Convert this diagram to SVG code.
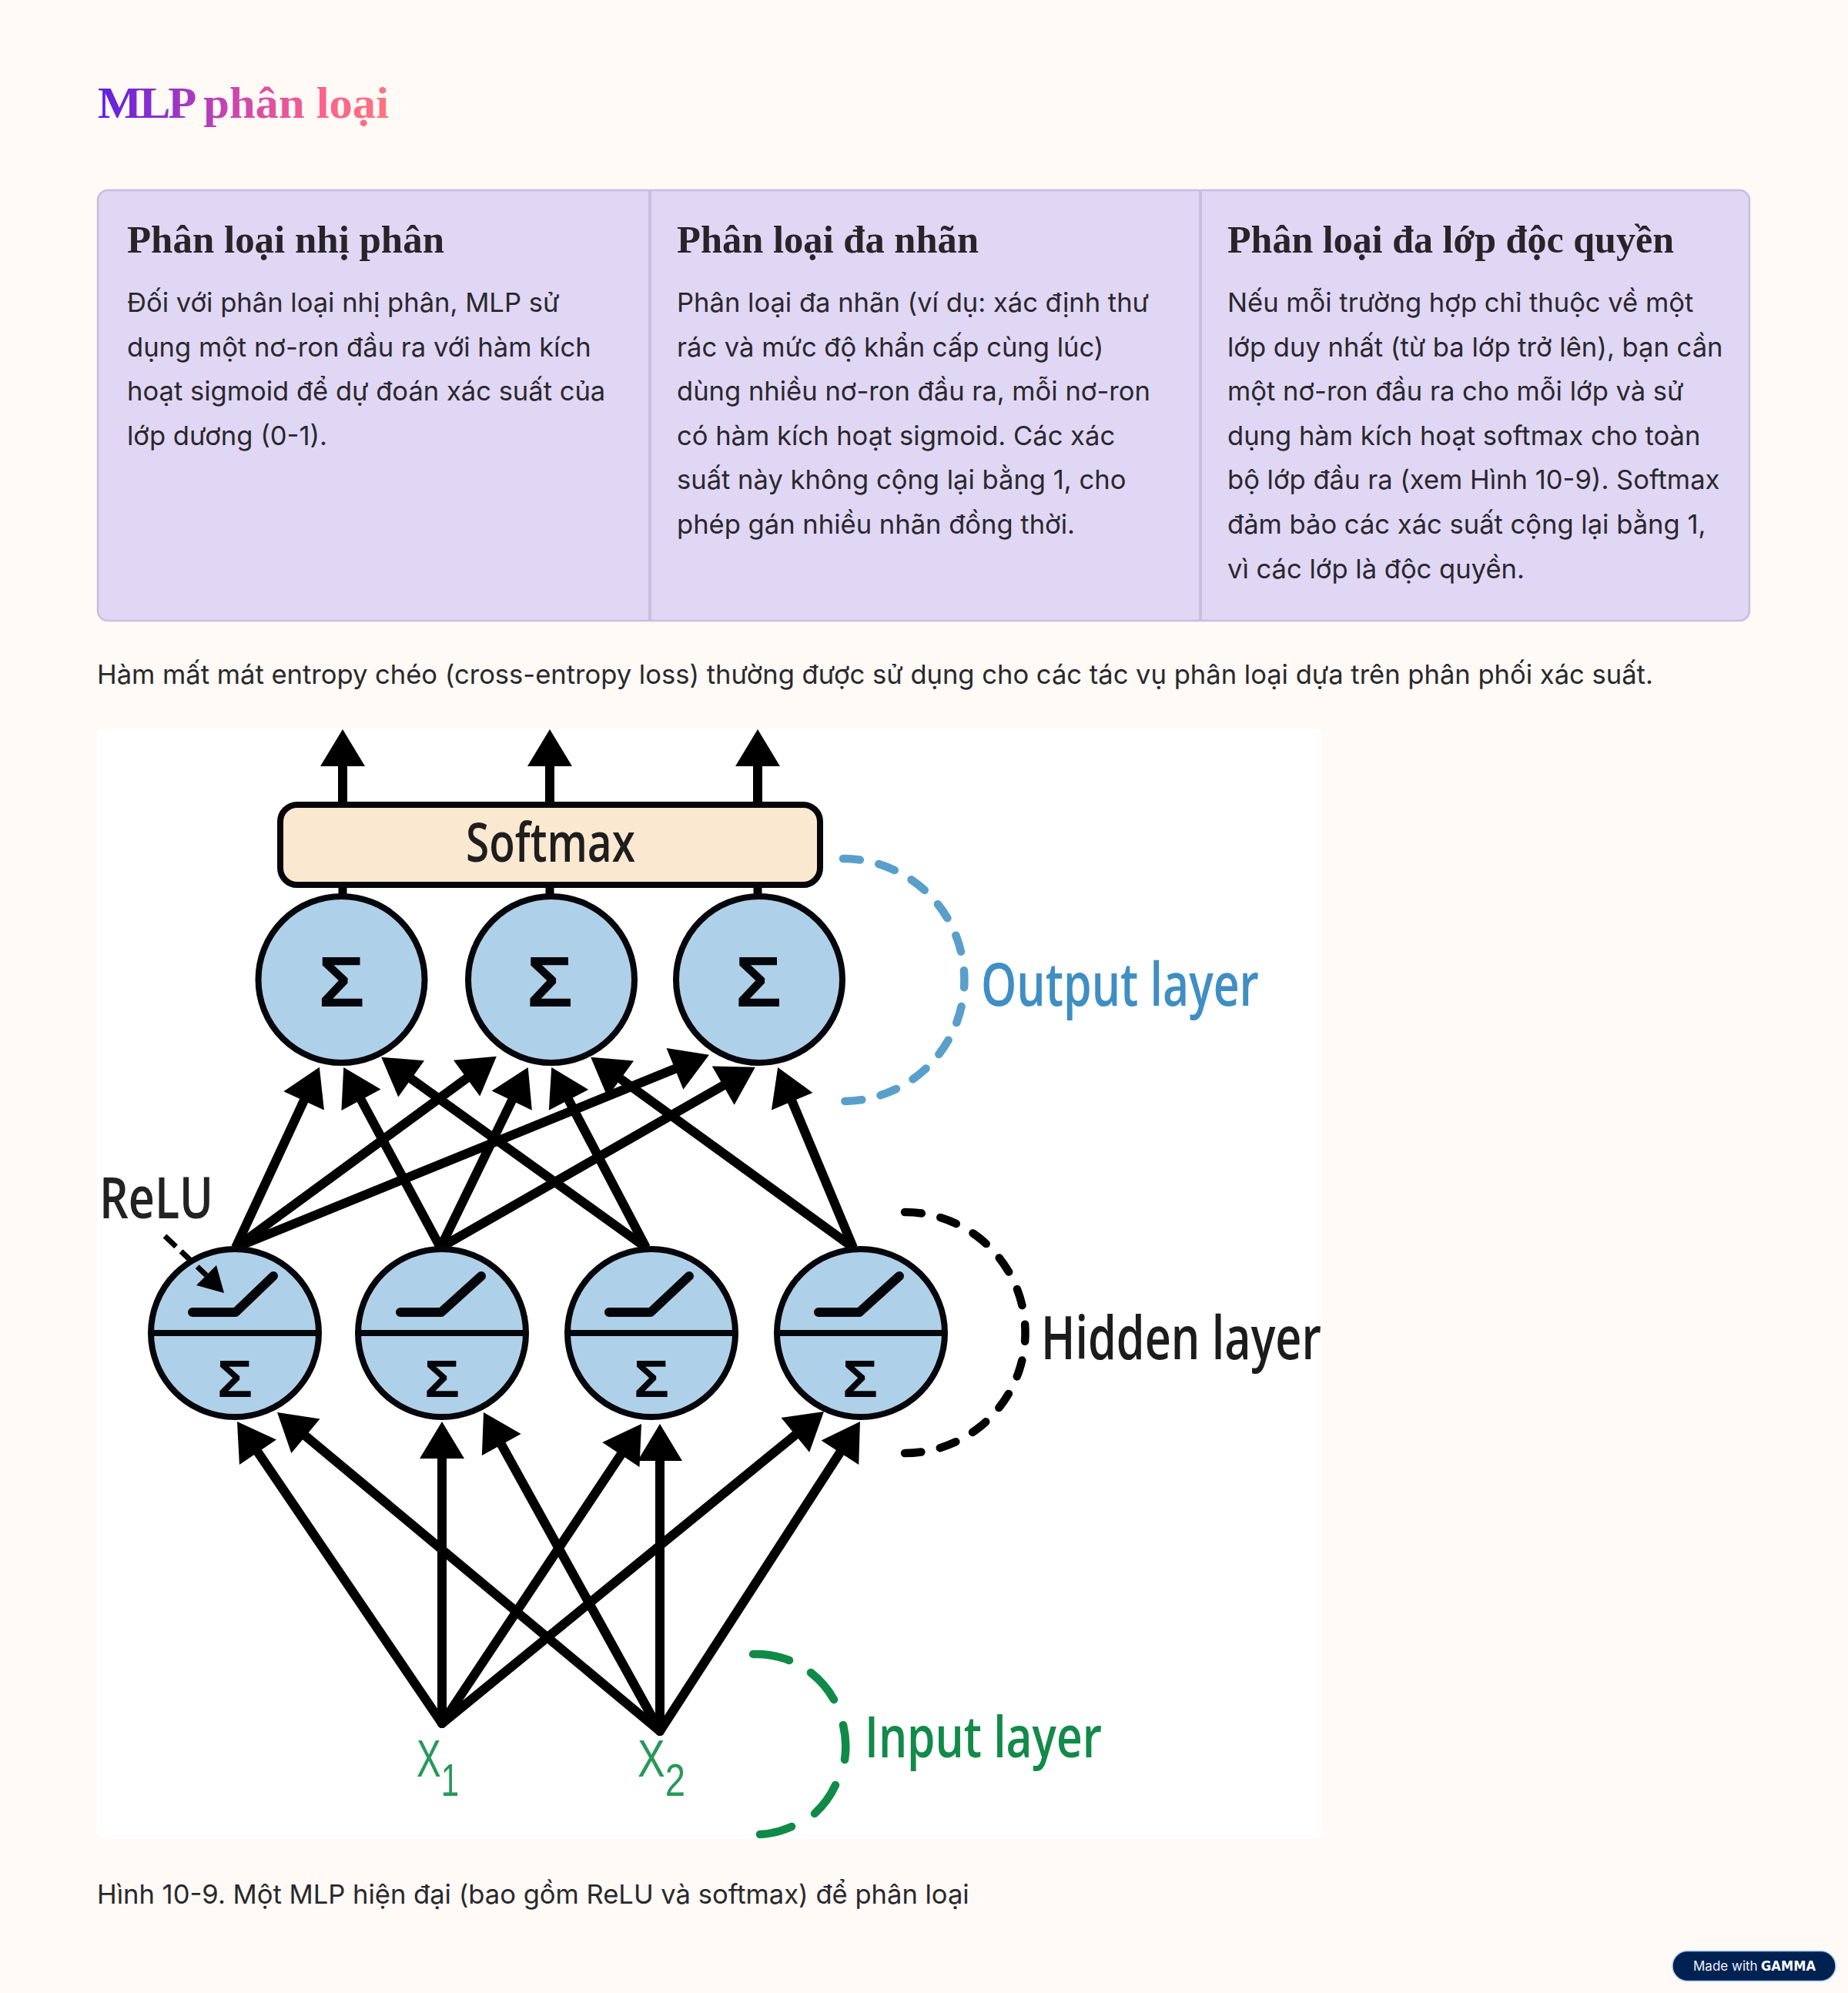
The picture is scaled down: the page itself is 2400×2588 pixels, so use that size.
<svg xmlns="http://www.w3.org/2000/svg" width="2400" height="2588" viewBox="0 0 2400 2588">
<style>
.body{font-family:"Inter","Noto Sans",sans-serif;font-size:34.56px;fill:#2a282c}
.head{font-family:"Liberation Serif","Noto Serif",serif;font-weight:700;font-size:50px;fill:#272527}
.lab{font-family:"Open Sans","Liberation Sans",sans-serif;font-weight:600}
.conn{stroke:#000;stroke-width:12;fill:none;marker-end:url(#ah)}
.stub{stroke:#000;stroke-width:11;fill:none}
.n{fill:#afd0e9;stroke:#05060a;stroke-width:8}
.div{stroke:#05060a;stroke-width:8}
.relu{fill:none;stroke:#05060a;stroke-width:12;stroke-linecap:round;stroke-linejoin:round}
.sig{font-family:"Liberation Sans",sans-serif;font-weight:700;fill:#05060a;text-anchor:middle}
.dash{fill:none;stroke-width:10.5;stroke-linecap:round;stroke-dasharray:22 25}
</style>
<defs>
<linearGradient id="tg" gradientUnits="userSpaceOnUse" x1="128" y1="0" x2="505" y2="0">
<stop offset="0" stop-color="#5d1fe2"/><stop offset="0.45" stop-color="#c745b0"/><stop offset="0.75" stop-color="#fc5f8e"/><stop offset="1" stop-color="#ff757d"/>
</linearGradient>
<marker id="ah" markerUnits="userSpaceOnUse" markerWidth="50" markerHeight="60" refX="28" refY="29" orient="auto" overflow="visible"><path d="M0,0L48,29L0,58z" fill="#000"/></marker>
</defs>
<rect width="2400" height="2588" fill="#fffaf6"/>
<g id="title"><text x="127" y="153" font-family="Liberation Serif,serif" font-weight="700" font-size="58" fill="url(#tg)" textLength="378" lengthAdjust="spacingAndGlyphs"><tspan letter-spacing="-3">MLP</tspan><tspan dx="-3"> phân loại</tspan></text></g>
<g id="cards">
<rect x="127" y="247" width="2145" height="559" rx="13" fill="#e0d7f5" stroke="#c6bfdd" stroke-width="2.5"/>
<line x1="844" y1="248" x2="844" y2="805" stroke="#c6bfdd" stroke-width="4"/>
<line x1="1559" y1="248" x2="1559" y2="805" stroke="#c6bfdd" stroke-width="4"/>
</g>
<g id="card1">
<text class="head" x="165" y="328" textLength="412" lengthAdjust="spacingAndGlyphs">Phân loại nhị phân</text>
<text class="body" x="165" y="405">Đối với phân loại nhị phân, MLP sử</text>
<text class="body" x="165" y="462.6">dụng một nơ-ron đầu ra với hàm kích</text>
<text class="body" x="165" y="520.2">hoạt sigmoid để dự đoán xác suất của</text>
<text class="body" x="165" y="577.8">lớp dương (0-1).</text>
</g>
<g id="card2">
<text class="head" x="879" y="328" textLength="392" lengthAdjust="spacingAndGlyphs">Phân loại đa nhãn</text>
<text class="body" x="879" y="405">Phân loại đa nhãn (ví dụ: xác định thư</text>
<text class="body" x="879" y="462.6">rác và mức độ khẩn cấp cùng lúc)</text>
<text class="body" x="879" y="520.2">dùng nhiều nơ-ron đầu ra, mỗi nơ-ron</text>
<text class="body" x="879" y="577.8">có hàm kích hoạt sigmoid. Các xác</text>
<text class="body" x="879" y="635.4">suất này không cộng lại bằng 1, cho</text>
<text class="body" x="879" y="693">phép gán nhiều nhãn đồng thời.</text>
</g>
<g id="card3">
<text class="head" x="1594" y="328" textLength="580" lengthAdjust="spacingAndGlyphs">Phân loại đa lớp độc quyền</text>
<text class="body" x="1594" y="405">Nếu mỗi trường hợp chỉ thuộc về một</text>
<text class="body" x="1594" y="462.6">lớp duy nhất (từ ba lớp trở lên), bạn cần</text>
<text class="body" x="1594" y="520.2">một nơ-ron đầu ra cho mỗi lớp và sử</text>
<text class="body" x="1594" y="577.8">dụng hàm kích hoạt softmax cho toàn</text>
<text class="body" x="1594" y="635.4">bộ lớp đầu ra (xem Hình 10-9). Softmax</text>
<text class="body" x="1594" y="693">đảm bảo các xác suất cộng lại bằng 1,</text>
<text class="body" x="1594" y="750.6">vì các lớp là độc quyền.</text>
</g>
<g id="intro"><text class="body" x="126" y="888">Hàm mất mát entropy chéo (cross-entropy loss) thường được sử dụng cho các tác vụ phân loại dựa trên phân phối xác suất.</text></g>
<rect id="figure-bg" x="126" y="946" width="1591" height="1442" rx="8" fill="#fff"/>
<g id="connectors">
<line class="conn" x1="445" y1="1046" x2="445" y2="967"/>
<line class="conn" x1="714" y1="1046" x2="714" y2="967"/>
<line class="conn" x1="984" y1="1046" x2="984" y2="967"/>
<line class="stub" x1="445" y1="1148" x2="445" y2="1168"/>
<line class="stub" x1="714" y1="1148" x2="714" y2="1168"/>
<line class="stub" x1="984" y1="1148" x2="984" y2="1168"/>
<line class="conn" x1="306" y1="1620" x2="406.4" y2="1404"/>
<line class="conn" x1="572" y1="1620" x2="455.7" y2="1403.5"/>
<line class="conn" x1="839" y1="1620" x2="511.4" y2="1384.5"/>
<line class="conn" x1="306" y1="1620" x2="628.7" y2="1383.6"/>
<line class="conn" x1="572" y1="1620" x2="677" y2="1404"/>
<line class="conn" x1="839" y1="1620" x2="725.5" y2="1403.6"/>
<line class="conn" x1="1108" y1="1620" x2="783.3" y2="1384.5"/>
<line class="conn" x1="306" y1="1620" x2="902.4" y2="1377.4"/>
<line class="conn" x1="572" y1="1620" x2="963.5" y2="1395.7"/>
<line class="conn" x1="1108" y1="1620" x2="1017.9" y2="1404.4"/>
<g stroke-linecap="round">
<line class="conn" x1="574" y1="2238" x2="319.2" y2="1862.6"/>
<line class="conn" x1="857" y1="2248" x2="375.4" y2="1846.8"/>
<line class="conn" x1="574" y1="2238" x2="574" y2="1866"/>
<line class="conn" x1="857" y1="2248" x2="637.7" y2="1851.5"/>
<line class="conn" x1="574" y1="2238" x2="821.9" y2="1865.7"/>
<line class="conn" x1="857" y1="2248" x2="857" y2="1869"/>
<line class="conn" x1="574" y1="2238" x2="1054.5" y2="1845.7"/>
<line class="conn" x1="857" y1="2248" x2="1106.1" y2="1862.8"/>
</g>
</g>
<g id="softmax">
<rect x="364" y="1045" width="701" height="104" rx="22" fill="#fbe8d1" stroke="#05060a" stroke-width="8"/>
<text class="lab" x="605" y="1119" font-size="70" fill="#1e1e1e" textLength="220" lengthAdjust="spacingAndGlyphs">Softmax</text>
</g>
<g id="output-1"><circle class="n" cx="443.5" cy="1272" r="108"/><text class="sig" x="443.5" y="1307" font-size="92" textLength="60" lengthAdjust="spacingAndGlyphs">Σ</text></g>
<g id="output-2"><circle class="n" cx="716" cy="1272" r="108"/><text class="sig" x="714" y="1307" font-size="92" textLength="60" lengthAdjust="spacingAndGlyphs">Σ</text></g>
<g id="output-3"><circle class="n" cx="986" cy="1272" r="108"/><text class="sig" x="985" y="1307" font-size="92" textLength="60" lengthAdjust="spacingAndGlyphs">Σ</text></g>
<g id="hidden-1"><circle class="n" cx="305" cy="1731" r="109"/><line class="div" x1="196" y1="1731" x2="414" y2="1731"/><path class="relu" d="M250,1704H306L355,1657"/><text class="sig" x="305" y="1814" font-size="68" textLength="46" lengthAdjust="spacingAndGlyphs">Σ</text></g>
<g id="hidden-2"><circle class="n" cx="574" cy="1731" r="109"/><line class="div" x1="465" y1="1731" x2="683" y2="1731"/><path class="relu" d="M520,1704H573L625,1657"/><text class="sig" x="574" y="1814" font-size="68" textLength="46" lengthAdjust="spacingAndGlyphs">Σ</text></g>
<g id="hidden-3"><circle class="n" cx="846" cy="1731" r="109"/><line class="div" x1="737" y1="1731" x2="955" y2="1731"/><path class="relu" d="M791,1704H845L895,1657"/><text class="sig" x="846" y="1814" font-size="68" textLength="46" lengthAdjust="spacingAndGlyphs">Σ</text></g>
<g id="hidden-4"><circle class="n" cx="1118" cy="1731" r="109"/><line class="div" x1="1009" y1="1731" x2="1227" y2="1731"/><path class="relu" d="M1063,1704H1116L1168,1657"/><text class="sig" x="1117" y="1814" font-size="68" textLength="46" lengthAdjust="spacingAndGlyphs">Σ</text></g>
<g id="relu-pointer">
<line x1="214" y1="1605" x2="268" y2="1656" stroke="#000" stroke-width="7" stroke-dasharray="20 9"/>
<path d="M291,1679L255,1669L281,1643z" fill="#000"/>
</g>
<g id="relu-label"><text class="lab" x="129" y="1582" font-size="74" fill="#222" textLength="148" lengthAdjust="spacingAndGlyphs">ReLU</text></g>
<g id="output-layer">
<path class="dash" stroke="#5a9fcb" d="M1095,1115A157.5,157.5 0 0 1 1095,1430"/>
<text class="lab" x="1274" y="1306" font-size="78" fill="#3f8ec4" textLength="361" lengthAdjust="spacingAndGlyphs">Output layer</text>
</g>
<g id="hidden-layer">
<path class="dash" stroke="#000" d="M1175,1574A156.5,156.5 0 0 1 1175,1887"/>
<text class="lab" x="1352" y="1765" font-size="78" fill="#1c1c1c" textLength="364" lengthAdjust="spacingAndGlyphs">Hidden layer</text>
</g>
<g id="input-layer">
<path d="M978,2148A117,117 0 0 1 1025,2156M1053,2172A117,117 0 0 1 1083,2207M1095,2240A117,117 0 0 1 1097,2285M1085,2318A117,117 0 0 1 1058,2355M1028,2372A117,117 0 0 1 987,2382" fill="none" stroke="#108a47" stroke-width="10.5" stroke-linecap="round"/>
<text class="lab" x="1123" y="2282" font-size="75" fill="#128a49" textLength="308" lengthAdjust="spacingAndGlyphs">Input layer</text>
</g>
<g id="x1"><text x="541" y="2307" font-family="Liberation Sans,sans-serif" font-size="68" fill="#27995a" textLength="55" lengthAdjust="spacingAndGlyphs">X<tspan dy="25" font-size="60">1</tspan></text></g>
<g id="x2"><text x="828" y="2307" font-family="Liberation Sans,sans-serif" font-size="68" fill="#27995a" textLength="62" lengthAdjust="spacingAndGlyphs">X<tspan dy="25" font-size="60">2</tspan></text></g>
<g id="caption"><text class="body" x="126" y="2472">Hình 10-9. Một MLP hiện đại (bao gồm ReLU và softmax) để phân loại</text></g>
<g id="badge">
<rect x="2172" y="2533.5" width="212" height="39" rx="19.5" fill="#002152" stroke="#a9c9f0" stroke-width="1.5"/>
<text x="2199" y="2558.5" font-family="Inter,sans-serif" font-size="17" fill="#eef3fa">Made with</text>
<text x="2287" y="2558.5" font-family="DejaVu Sans,sans-serif" font-weight="700" font-size="17" fill="#fff" textLength="71" lengthAdjust="spacingAndGlyphs">GAMMA</text>
</g>
</svg>
